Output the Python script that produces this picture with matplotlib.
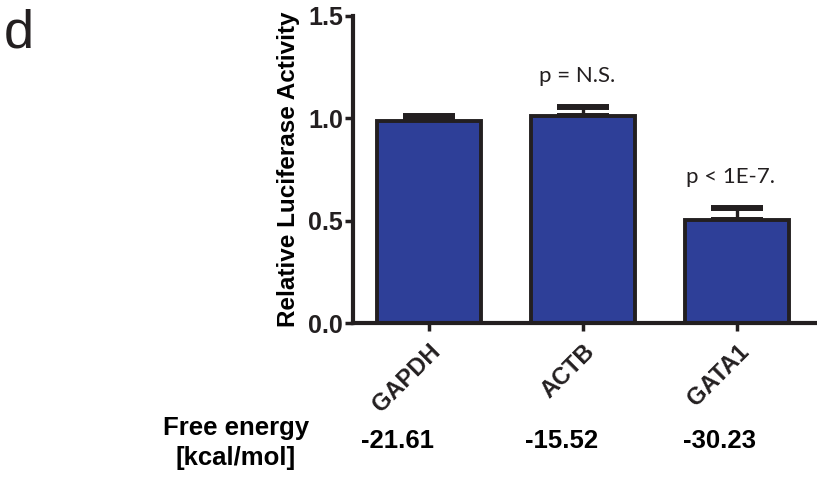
import numpy as np
import matplotlib
matplotlib.use('Agg')
import matplotlib.pyplot as plt
from matplotlib.transforms import ScaledTranslation

genes = ['GAPDH', 'ACTB', 'GATA1']
activity = [0.985, 1.01, 0.502]
sem = [0.027, 0.044, 0.059]
free_energy = ['-21.61', '-15.52', '-30.23']
pvals = ['', 'p = N.S.', 'p < 1E-7.']

plt.rcParams['font.family'] = ['Liberation Sans', 'DejaVu Sans']

fig = plt.figure(figsize=(8.17, 4.8), dpi=100)
ax = fig.add_axes([0.4317, 0.327, 0.5659, 0.6406])

x = np.arange(len(genes))
ax.bar(x, activity, width=0.67, color='#2E3F98', edgecolor='#231F20', linewidth=2.8, zorder=2)
ax.errorbar(x, activity, yerr=[np.zeros(3), sem], fmt='none', ecolor='#231F20',
            elinewidth=2.4, capsize=18.5, capthick=4.3, zorder=1)

for xi, a, s, p in zip(x, activity, sem, pvals):
    if p:
        ax.text(xi - 0.04, a + s + 0.12, p, ha='center', va='baseline', fontsize=16,
                family=['Lato', 'DejaVu Sans'], color='#231F20')

ax.set_xlim(-0.495, 2.506)
ax.set_ylim(0, 1.5)
ax.set_yticks([0.0, 0.5, 1.0, 1.5])
ax.set_yticklabels(['0.0', '0.5', '1.0', '1.5'], fontweight='bold', fontsize=18)
ax.set_xticks(x)
ax.set_xticklabels(genes, rotation=45, ha='right', va='top', rotation_mode='anchor',
                   fontweight='bold', fontsize=17)
for lbl in ax.get_xticklabels():
    lbl.set_transform(lbl.get_transform() + ScaledTranslation(5 / 100, 0, fig.dpi_scale_trans))
ax.set_ylabel('Relative Luciferase Activity', fontweight='bold', fontsize=17.5, labelpad=6)
for s in ['top', 'right']:
    ax.spines[s].set_visible(False)
for s in ['left', 'bottom']:
    ax.spines[s].set_linewidth(3)
    ax.spines[s].set_color('#231F20')
ax.tick_params(axis='y', width=2.5, length=6, direction='out', pad=1, colors='#231F20')
ax.tick_params(axis='x', width=2.5, length=6, direction='out', pad=6, colors='#231F20')

# free energy row
fig.text(236 / 817, 1 - 428 / 480, 'Free energy', ha='center', va='center', fontweight='bold', fontsize=18.5)
fig.text(236 / 817, 1 - 458 / 480, '[kcal/mol]', ha='center', va='center', fontweight='bold', fontsize=18.5)
fe_x = [397, 562, 720]
for xp, fe in zip(fe_x, free_energy):
    fig.text(xp / 817, 1 - 441 / 480, fe, ha='center', va='center', fontweight='bold', fontsize=18.5)

fig.text(4 / 817, 1 - 47 / 480, 'd', ha='left', va='baseline', fontsize=39, color='#231F20')

fig.savefig('out.png', dpi=100)
